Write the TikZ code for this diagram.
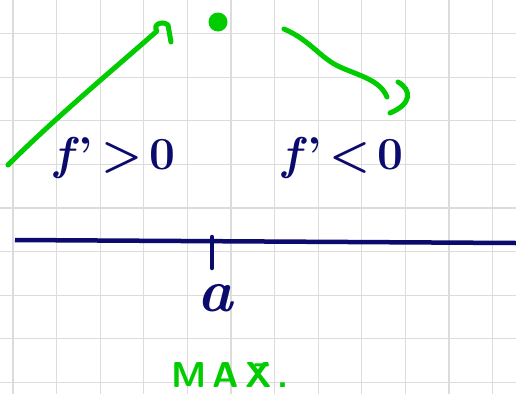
\documentclass[tikz,border=0pt]{standalone}
\usepackage{fontspec}
\usepackage{tikz}
\usetikzlibrary{positioning}
\definecolor{inkGreen}{HTML}{00CC00}
\definecolor{inkNavy}{HTML}{0B0B6E}
\definecolor{gridGray}{HTML}{DCDCDC}

\begin{document}
\begin{tikzpicture}[x=1pt, y=-1pt,
  gline/.style={draw=inkGreen, line width=5pt, line cap=round, line join=round},
  nline/.style={draw=inkNavy, line width=4.5pt, line cap=round},
  lbl/.style={text=inkNavy, inner sep=0pt, font=\fontsize{46}{50}\selectfont\bfseries},
  note/.style={text=inkGreen, inner sep=0pt, font=\fontsize{36}{40}\selectfont\sffamily\bfseries}]

\useasboundingbox[fill=white] (0,0) rectangle (516,394);

% grid
\foreach \gx in {0,...,11}
  \draw[gridGray, line width=1.2pt] ({13+43.6*\gx},0) -- ({13+43.6*\gx},394);
\foreach \gy in {0,...,8}
  \draw[gridGray, line width=1.2pt] (0,{33.5+43.6*\gy}) -- (516,{33.5+43.6*\gy});

% maximum point
\node[circle, fill=inkGreen, minimum size=19pt, inner sep=0pt] (top) at (218,22) {};

% increasing branch
\coordinate (upstart) at (8,165);
\coordinate (upend) at (157,31);
\draw[gline] (upstart) .. controls (55,118) and (115,68) .. (upend)
  .. controls (152,25) and (162,20) .. (168,25) -- (171,42);

% decreasing branch
\coordinate (downstart) at (284,29);
\coordinate (downend) at (387,97);
\draw[gline] (downstart) .. controls (310,40) and (320,58) .. (340,67)
  .. controls (360,76) and (380,80) .. (downend);
\draw[gline] (398,82) .. controls (412,90) and (412,104) .. (390,113);

% sign labels
\node[lbl] (pos) at (115,158) {\textit{f}'\,>\,0};
\node[lbl] (neg) at (343,158) {\textit{f}'\,<\,0};

% axis
\coordinate (axl) at (15,240);
\coordinate (axr) at (516,243);
\draw[nline, line cap=butt] (axl) -- (axr);
\coordinate (tk) at (212,237);
\draw[nline] (tk) -- ++(0,31);
\node[lbl, font=\fontsize{60}{64}\selectfont\bfseries] (aa) at (216,298) {\textit{a}};

\node[note] (mx) at (230,375) {M\,A\,\=X\,.};

\end{tikzpicture}
\end{document}
